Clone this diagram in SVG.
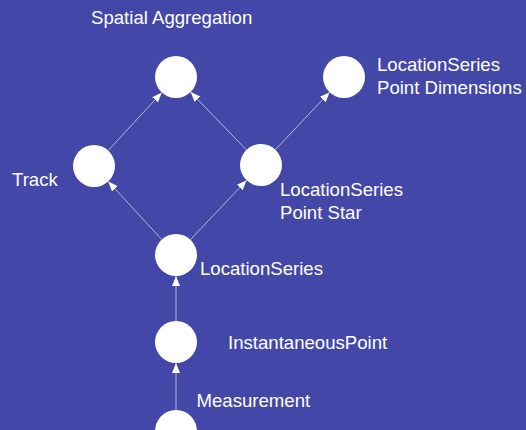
<svg xmlns="http://www.w3.org/2000/svg" width="526" height="430" viewBox="0 0 526 430">
<style>
.n{fill:#ffffff}
.t{font-family:"Liberation Sans",Arial,sans-serif;font-size:18.6px;fill:#ffffff}
.e{stroke:#b4b7dc;stroke-width:1;fill:none;marker-end:url(#ah)}
</style>
<defs>
<marker id="ah" markerUnits="userSpaceOnUse" markerWidth="11" markerHeight="9" refX="10" refY="4" orient="auto">
<path d="M0,0 L10,4 L0,8 z" fill="#ffffff"/>
</marker>
</defs>
<rect width="526" height="430" fill="#4348a8"/>
<g id="connectors">
<line class="e" x1="108.2" y1="150.5" x2="161.8" y2="92.5"/>
<line class="e" x1="246.4" y1="149.9" x2="190.6" y2="92.1"/>
<line class="e" x1="275.4" y1="149.7" x2="329.6" y2="92.3"/>
<line class="e" x1="161.8" y1="239.5" x2="108.2" y2="181.5"/>
<line class="e" x1="190.4" y1="239.7" x2="246.6" y2="180.3"/>
<line class="e" x1="176" y1="321" x2="176" y2="276"/>
<line class="e" x1="176" y1="410" x2="176" y2="363"/>
</g>
<g id="spatial-aggregation">
<circle class="n" cx="176" cy="77" r="21"/>
<text class="t" x="91" y="23.5">Spatial Aggregation</text>
</g>
<g id="point-dimensions">
<circle class="n" cx="344" cy="77" r="21"/>
<text class="t" x="377" y="71">LocationSeries</text>
<text class="t" x="377" y="94">Point Dimensions</text>
</g>
<g id="track">
<circle class="n" cx="94" cy="166" r="21"/>
<text class="t" x="12" y="186">Track</text>
</g>
<g id="point-star">
<circle class="n" cx="261" cy="165" r="21"/>
<text class="t" x="280" y="196">LocationSeries</text>
<text class="t" x="280" y="219">Point Star</text>
</g>
<g id="location-series">
<circle class="n" cx="176" cy="255" r="21"/>
<text class="t" x="200" y="274.5">LocationSeries</text>
</g>
<g id="instantaneous-point">
<circle class="n" cx="176" cy="342" r="21"/>
<text class="t" x="228" y="348.5">InstantaneousPoint</text>
</g>
<g id="measurement">
<circle class="n" cx="176" cy="431" r="21"/>
<text class="t" x="196.5" y="407">Measurement</text>
</g>
</svg>
